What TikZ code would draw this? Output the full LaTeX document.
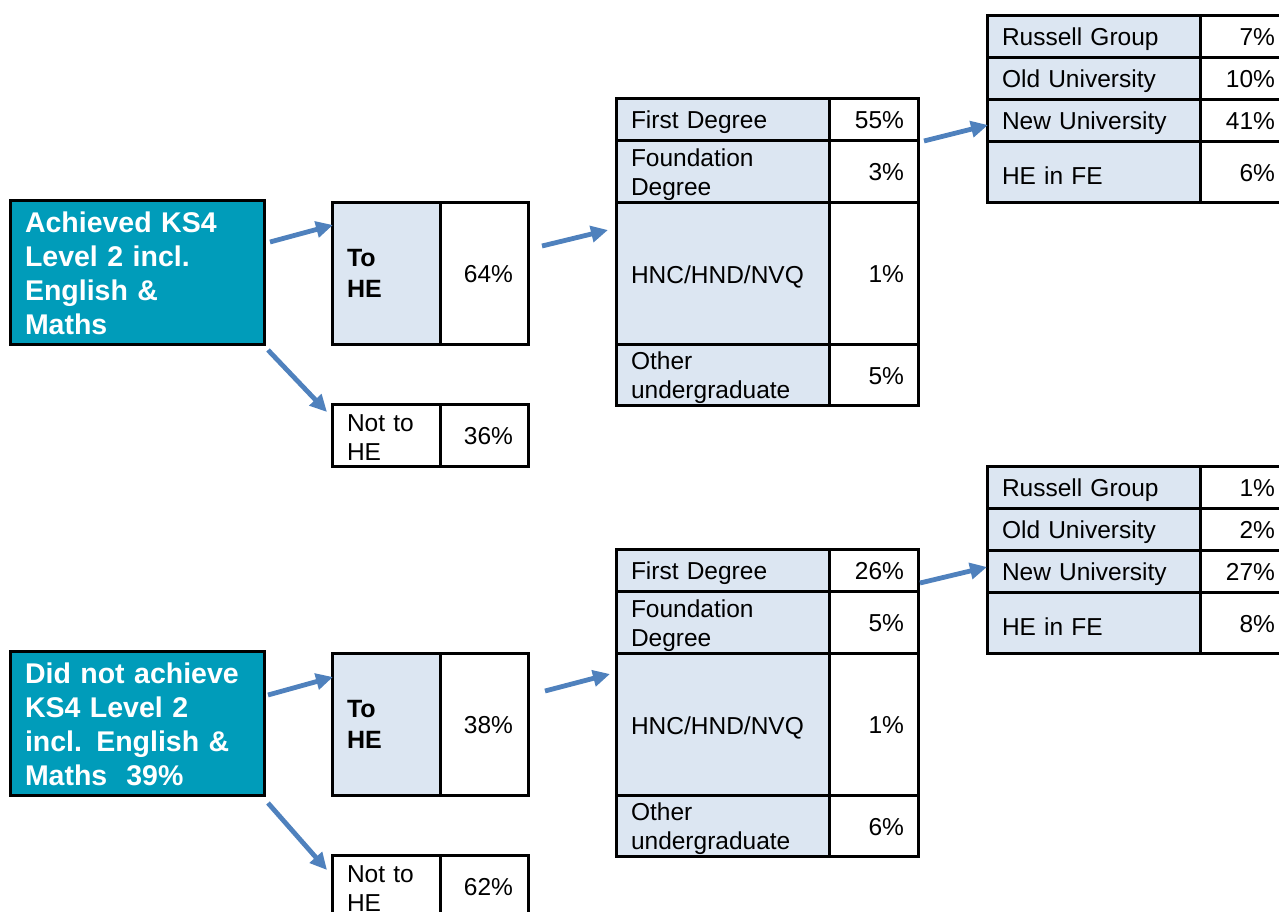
\documentclass[tikz,border=0pt]{standalone}
\usepackage{fontspec}
\setmainfont{Liberation Sans}
\usetikzlibrary{arrows.meta,calc}
\definecolor{tealc}{RGB}{0,156,186}
\definecolor{cellblue}{RGB}{220,230,242}
\definecolor{arrowblue}{RGB}{79,129,189}
\newcommand\regf{\fontsize{24.5}{29}\selectfont}
\newcommand\hef{\fontsize{25}{31}\selectfont\bfseries}
\newcommand\tealf{\fontsize{28.5}{34}\selectfont\bfseries}
\tikzset{
 base/.style={draw=black, line width=3pt, anchor=north west, outer sep=0pt, inner ysep=0pt},
 lowered/.style={execute at begin node={\rule{0pt}{#1}}},
 blue/.style={base, fill=cellblue, align=left, inner xsep=15pt},
 lcell/.style={blue, font=\regf, lowered=25pt},
 hecell/.style={blue, font=\hef},
 wcell/.style={base, fill=white, align=left, inner xsep=15pt, font=\regf, lowered=21pt},
 rcell/.style={base, fill=white, align=right, inner xsep=14pt, font=\regf, lowered=20pt},
 tealbox/.style={base, fill=tealc, text=white, align=left, inner xsep=15pt, font=\tealf, text width=224pt, minimum height=144pt, lowered=24pt},
 conn/.style={draw=arrowblue, line width=4.8pt, -{Triangle[length=17pt,width=16pt]}},
}
\begin{document}
\begin{tikzpicture}[x=1pt,y=-1pt]
\useasboundingbox (0,0) rectangle (1279,911);
\clip (0,0) rectangle (1279,911);
% ---------- top group ----------
\node[tealbox] (teal1) at (10,200) {Achieved KS4\\Level 2 incl.\\English \&\\Maths};
\node[hecell, text width=78pt, minimum height=142pt] (tohe1L) at (332,202) {To\\HE};
\node[rcell, inner xsep=15pt, text width=58pt, minimum height=142pt] (tohe1R) at (440,202) {64\%};
\node[wcell, text width=78pt, minimum height=62pt] (not1L) at (332,404) {Not to\\HE};
\node[rcell, inner xsep=15pt, text width=58pt, minimum height=62pt] (not1R) at (440,404) {36\%};
% middle table
\node[lcell, text width=183pt, minimum height=42pt] (m1L) at (616,98) {First Degree};
\node[rcell, text width=61pt, minimum height=42pt] (m1R) at (829,98) {55\%};
\node[lcell, text width=183pt, minimum height=62pt] (m2L) at (616,140) {Foundation\\Degree};
\node[rcell, text width=61pt, minimum height=62pt] (m2R) at (829,140) {3\%};
\node[lcell, text width=183pt, minimum height=142pt] (m3L) at (616,202) {HNC/HND/NVQ};
\node[rcell, text width=61pt, minimum height=142pt] (m3R) at (829,202) {1\%};
\node[lcell, text width=183pt, minimum height=61pt] (m4L) at (616,344) {Other\\undergraduate};
\node[rcell, text width=61pt, minimum height=61pt] (m4R) at (829,344) {5\%};
% right table
\node[lcell, text width=183pt, minimum height=42pt] (r1L) at (987,15) {Russell Group};
\node[rcell, inner xsep=15pt, text width=60pt, minimum height=42pt] (r1R) at (1200,15) {7\%};
\node[lcell, text width=183pt, minimum height=42pt] (r2L) at (987,57) {Old University};
\node[rcell, inner xsep=15pt, text width=60pt, minimum height=42pt] (r2R) at (1200,57) {10\%};
\node[lcell, text width=183pt, minimum height=42pt] (r3L) at (987,99) {New University};
\node[rcell, inner xsep=15pt, text width=60pt, minimum height=42pt] (r3R) at (1200,99) {41\%};
\node[lcell, text width=183pt, minimum height=61pt] (r4L) at (987,141) {HE in FE};
\node[rcell, inner xsep=15pt, text width=60pt, minimum height=61pt] (r4R) at (1200,141) {6\%};
% connectors
\draw[conn] ($(teal1.north east)+(6,42)$) -- ($(tohe1L.north west)+(1,23)$);
\draw[conn] ($(teal1.south east)+(4,6)$) -- ($(not1L.north west)+(-5,8)$);
\draw[conn] ($(tohe1R.north east)+(14,44)$) -- ($(m3L.north west)+(-8,28)$);
\draw[conn] ($(m1R.south east)+(6,1)$) -- ($(r3L.north west)+(1,26)$);
% ---------- bottom group ----------
\node[tealbox] (teal2) at (10,651) {Did not achieve\\KS4 Level 2\\incl. English \&\\Maths\ \ 39\%};
\node[hecell, text width=78pt, minimum height=142pt] (tohe2L) at (332,653) {To\\HE};
\node[rcell, inner xsep=15pt, text width=58pt, minimum height=142pt] (tohe2R) at (440,653) {38\%};
\node[wcell, text width=78pt, minimum height=62pt] (not2L) at (332,855) {Not to\\HE};
\node[rcell, inner xsep=15pt, text width=58pt, minimum height=62pt] (not2R) at (440,855) {62\%};
% middle table
\node[lcell, text width=183pt, minimum height=42pt] (n1L) at (616,549) {First Degree};
\node[rcell, text width=61pt, minimum height=42pt] (n1R) at (829,549) {26\%};
\node[lcell, text width=183pt, minimum height=62pt] (n2L) at (616,591) {Foundation\\Degree};
\node[rcell, text width=61pt, minimum height=62pt] (n2R) at (829,591) {5\%};
\node[lcell, text width=183pt, minimum height=142pt] (n3L) at (616,653) {HNC/HND/NVQ};
\node[rcell, text width=61pt, minimum height=142pt] (n3R) at (829,653) {1\%};
\node[lcell, text width=183pt, minimum height=61pt] (n4L) at (616,795) {Other\\undergraduate};
\node[rcell, text width=61pt, minimum height=61pt] (n4R) at (829,795) {6\%};
% right table
\node[lcell, text width=183pt, minimum height=42pt] (s1L) at (987,466) {Russell Group};
\node[rcell, inner xsep=15pt, text width=60pt, minimum height=42pt] (s1R) at (1200,466) {1\%};
\node[lcell, text width=183pt, minimum height=42pt] (s2L) at (987,508) {Old University};
\node[rcell, inner xsep=15pt, text width=60pt, minimum height=42pt] (s2R) at (1200,508) {2\%};
\node[lcell, text width=183pt, minimum height=42pt] (s3L) at (987,550) {New University};
\node[rcell, inner xsep=15pt, text width=60pt, minimum height=42pt] (s3R) at (1200,550) {27\%};
\node[lcell, text width=183pt, minimum height=61pt] (s4L) at (987,592) {HE in FE};
\node[rcell, inner xsep=15pt, text width=60pt, minimum height=61pt] (s4R) at (1200,592) {8\%};
% connectors
\draw[conn] ($(teal2.north east)+(4,44)$) -- ($(tohe2L.north west)+(1,24)$);
\draw[conn] ($(teal2.south east)+(4,8)$) -- ($(not2L.north west)+(-5,15)$);
\draw[conn] ($(tohe2R.north east)+(17,38)$) -- ($(n3L.north west)+(-6,21)$);
\draw[conn] ($(n1R.south east)+(2,-8)$) -- ($(s3L.north west)+(0,17)$);
\end{tikzpicture}
\end{document}
